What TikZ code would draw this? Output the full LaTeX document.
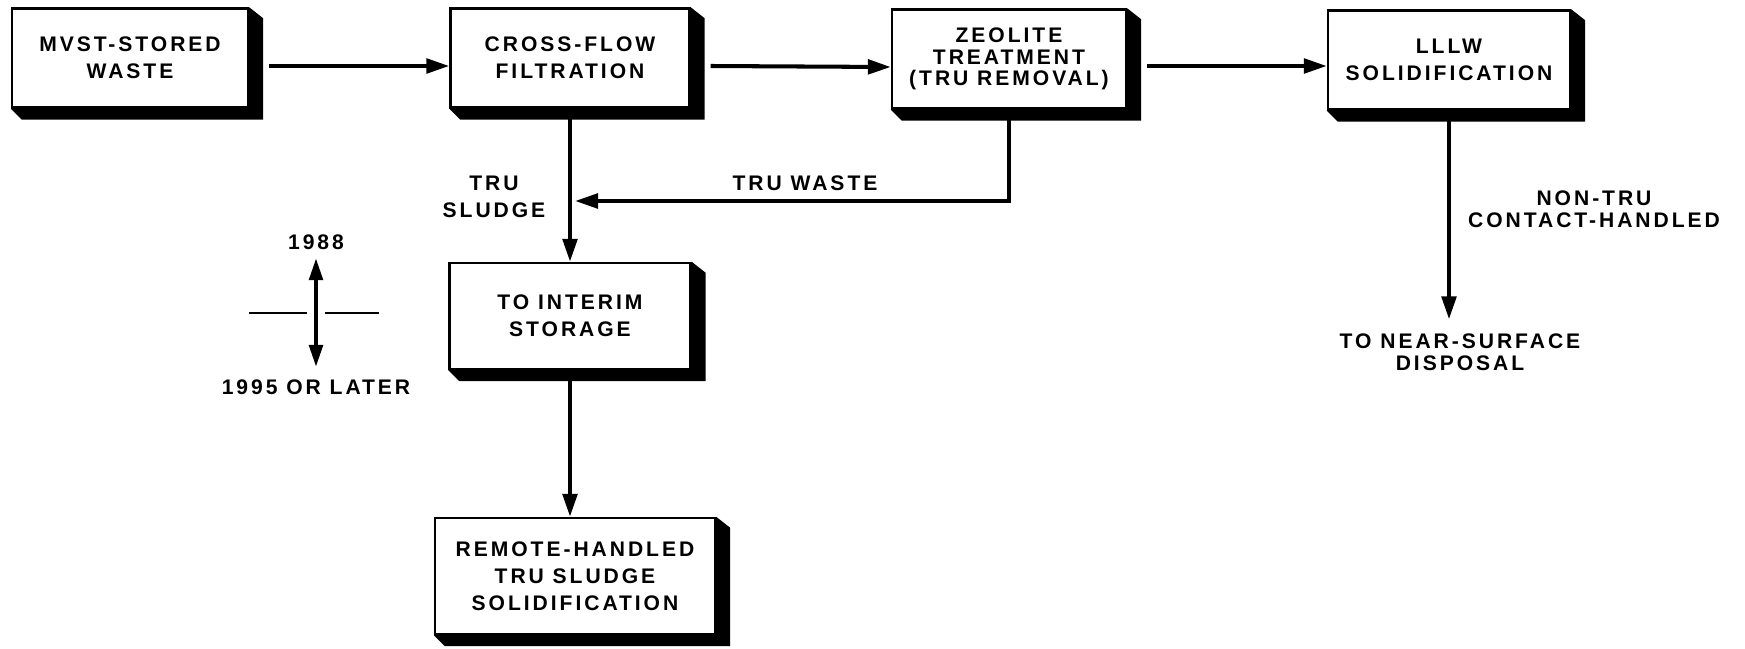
\documentclass[tikz,border=0pt]{standalone}
\usepackage{fontspec}
\usepackage{tikz}
\usetikzlibrary{arrows.meta,positioning,calc}
\newfontfamily\diafont{Liberation Sans}[LetterSpace=14]
\newcommand{\boxfont}{\diafont\bfseries\fontsize{12}{15.4}\selectfont}
\newcommand{\tightfont}{\diafont\bfseries\fontsize{12}{12.3}\selectfont}
\tikzset{
  procbox/.style={draw, line width=1.4pt, fill=white, align=center, inner sep=0pt,
                  font=\boxfont, minimum height=1.98cm},
  flowarr/.style={-{Triangle[length=0.46cm, width=0.29cm]}, line width=2.3pt},
  lbl/.style={align=center, font=\boxfont, inner sep=0pt},
}

\begin{document}
\begin{tikzpicture}[x=0.02cm, y=-0.02cm]
  \useasboundingbox (0,0) rectangle (1745,649);
  % process boxes, top row
  \node[procbox, minimum width=4.72cm] (mvst) at (130,58) {MVST-STORED\\WASTE};
  \node[procbox, minimum width=4.78cm] (cff) at (570,58) {CROSS-FLOW\\FILTRATION};
  \node[procbox, minimum width=4.68cm, font=\tightfont] (zeo) at (1009,59) {ZEOLITE\\TREATMENT\\(TRU REMOVAL)};
  \node[procbox, minimum width=4.84cm] (lllw) at (1449,60) {LLLW\\SOLIDIFICATION};
  % sludge branch
  \node[procbox, minimum width=4.82cm, minimum height=2.12cm] (interim) at (570,316) {TO INTERIM\\STORAGE};
  \node[procbox, minimum width=5.6cm, minimum height=2.32cm] (rhsol) at (575,576) {REMOTE-HANDLED\\TRU SLUDGE\\SOLIDIFICATION};
  % block shadows
  \foreach \n in {mvst,cff,zeo,lllw,interim,rhsol}
    \fill (\n.north east) -- ($(\n.north east)+(14,11)$) -- ($(\n.south east)+(14,11)$)
      -- ($(\n.south west)+(11,11)$) -- (\n.south west) -- (\n.south east) -- cycle;
  % labels
  \node[lbl] (sludge) at (494,197) {TRU\\SLUDGE};
  \node[lbl] (twaste) at (805,183) {TRU WASTE};
  \node[lbl, font=\tightfont] (nontru) at (1594,209) {NON-TRU\\CONTACT-HANDLED};
  \node[lbl, font=\tightfont] (disp) at (1460,352) {TO NEAR-SURFACE\\DISPOSAL};
  \coordinate (twin) at (575,201);
  % flows
  \draw[flowarr] ($(mvst.east)+(20,8)$) -- ($(cff.west)+(0,8)$);
  \draw[flowarr] ($(cff.east)+(20,8)$) -- ($(zeo.west)+(0,8)$);
  \draw[flowarr] ($(zeo.east)+(20,7)$) -- ($(lllw.west)+(0,6)$);
  \draw[flowarr] (cff.south) -- (interim.north);
  \draw[flowarr] (zeo.south) |- (twin);
  \draw[flowarr] (interim.south) -- (interim.south |- rhsol.north);
  \draw[flowarr, shorten >=8pt] (lllw.south) -- (lllw.south |- disp.north);
  % time key
  \node[lbl] (yr1) at (316,242) {1988};
  \node[lbl] (yr2) at (316,387) {1995 OR LATER};
  \draw[{Triangle[length=0.44cm, width=0.27cm]}-{Triangle[length=0.44cm, width=0.27cm]}, line width=2.3pt,
        shorten <=4.8pt, shorten >=7pt] (yr1.south) -- (yr2.north);
  \draw[line width=1.4pt] (249,313) -- (307,313) (325,313) -- (379,313);
\end{tikzpicture}
\end{document}
